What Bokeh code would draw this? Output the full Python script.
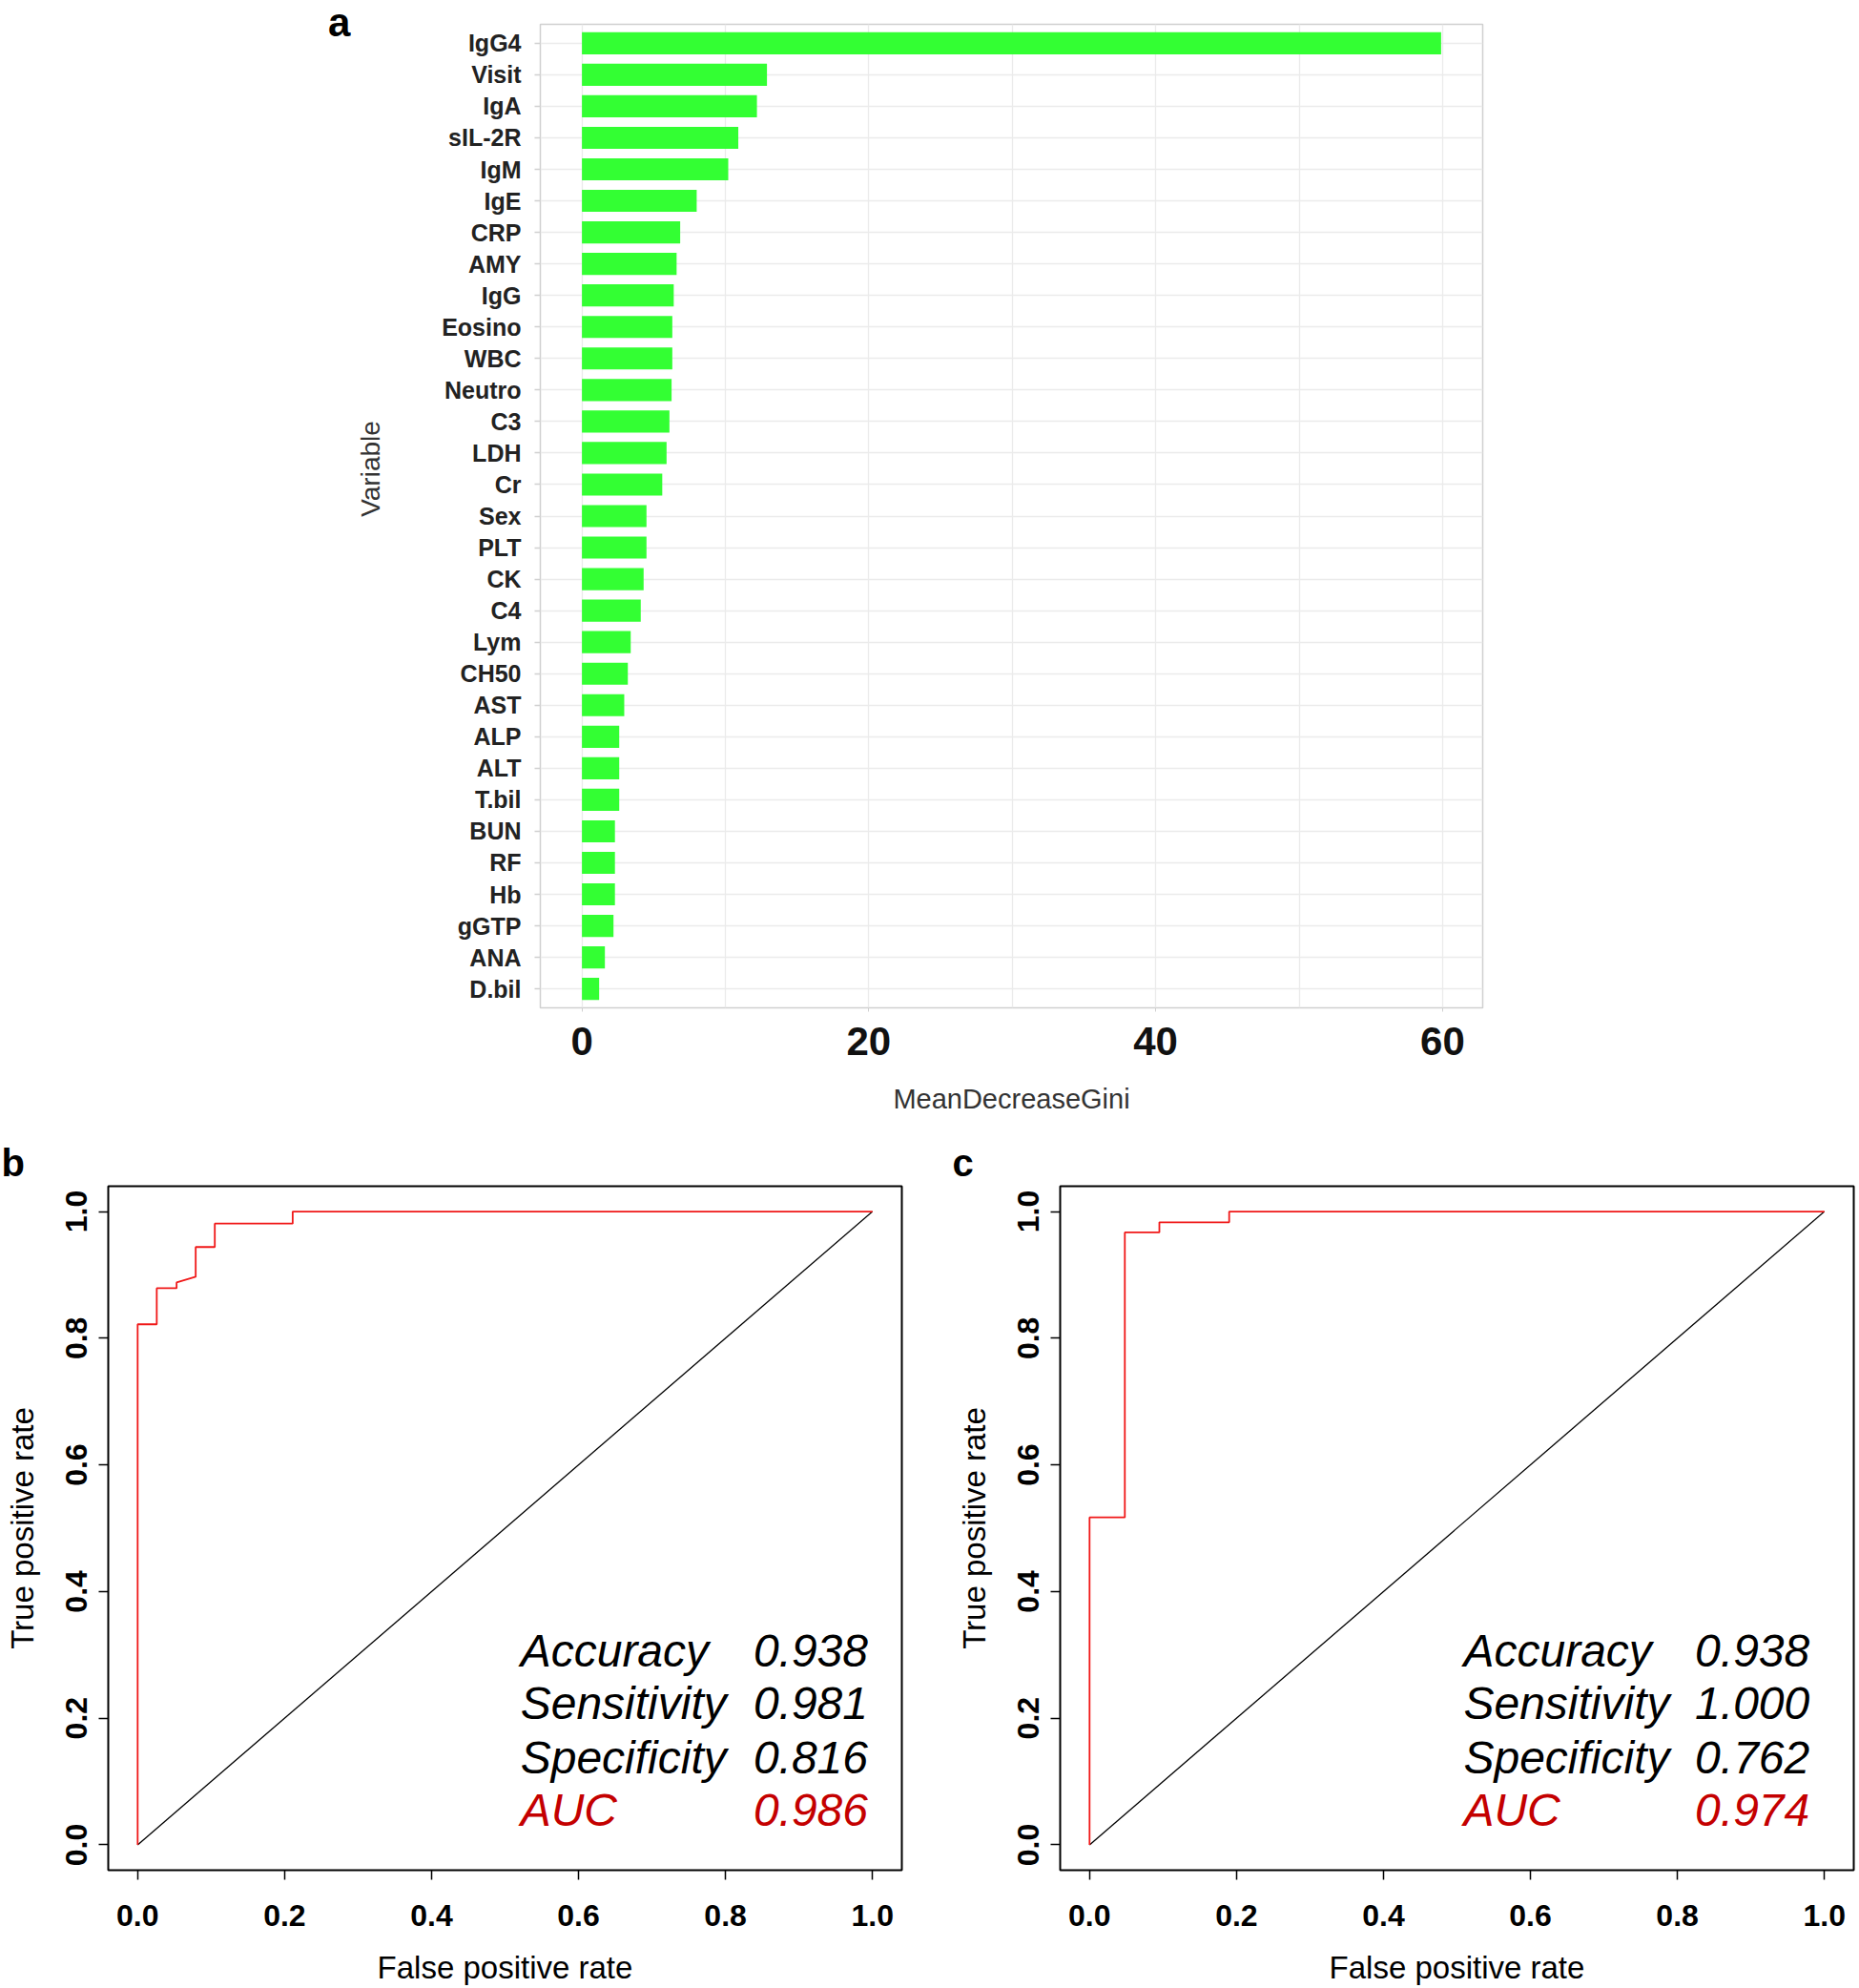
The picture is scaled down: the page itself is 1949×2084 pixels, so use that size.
import math
from bokeh.plotting import figure
from bokeh.models import FactorRange, Range1d, FixedTicker, PrintfTickFormatter, Div
from bokeh.layouts import column, row
from bokeh.embed import file_html
from bokeh.resources import INLINE
from bokeh.core.properties import value

# ---------------- data ----------------
variables = ["IgG4", "Visit", "IgA", "sIL-2R", "IgM", "IgE", "CRP", "AMY", "IgG", "Eosino",
             "WBC", "Neutro", "C3", "LDH", "Cr", "Sex", "PLT", "CK", "C4", "Lym", "CH50",
             "AST", "ALP", "ALT", "T.bil", "BUN", "RF", "Hb", "gGTP", "ANA", "D.bil"]
gini = [59.9, 12.9, 12.2, 10.9, 10.2, 8.0, 6.85, 6.6, 6.4, 6.3,
        6.3, 6.25, 6.1, 5.9, 5.6, 4.5, 4.5, 4.3, 4.1, 3.4, 3.2,
        2.95, 2.6, 2.6, 2.6, 2.3, 2.3, 2.3, 2.2, 1.6, 1.2]
gini_ticks = [0, 20, 40, 60]
gini_grid = [0, 10, 20, 30, 40, 50, 60]

fpr_b = [0.0, 0.0, 0.026, 0.026, 0.053, 0.053, 0.079, 0.079, 0.105, 0.105, 0.211, 0.211, 1.0]
tpr_b = [0.0, 0.822, 0.822, 0.879, 0.879, 0.888, 0.897, 0.944, 0.944, 0.981, 0.981, 1.0, 1.0]

fpr_c = [0.0, 0.0, 0.048, 0.048, 0.095, 0.095, 0.190, 0.190, 1.0]
tpr_c = [0.0, 0.517, 0.517, 0.967, 0.967, 0.983, 0.983, 1.0, 1.0]

chance_x = [0.0, 1.0]
chance_y = [0.0, 1.0]
rate_ticks = [0.0, 0.2, 0.4, 0.6, 0.8, 1.0]

stat_names = ["Accuracy", "Sensitivity", "Specificity", "AUC"]
stats_b = ["0.938", "0.981", "0.816", "0.986"]
stats_c = ["0.938", "1.000", "0.762", "0.974"]

FONT = "Liberation Sans"
DARKRED = "#c40000"

TOP_H = 1186
BOT_H = 898
FRAME_TOP = 25
FRAME_BOTTOM = 1056
A_BORDER_BOTTOM = TOP_H - FRAME_BOTTOM

# ---------------- panel letter "a" (HTML text) ----------------
DIV_W = 370
a_html = ('<div style="position:relative;width:%dpx;height:60px;">'
          '<span style="position:absolute;left:344px;top:0px;font-family:\'Liberation Sans\',Arial,sans-serif;'
          'font-size:42px;font-weight:bold;line-height:47px;color:black;">a</span></div>') % DIV_W
div_a = Div(text=a_html, width=DIV_W, height=TOP_H, margin=0)

# ---------------- strip holding the y-axis title "Variable" ----------------
LAB_X0, LAB_X1 = DIV_W, 408
lab = figure(width=LAB_X1 - LAB_X0, height=TOP_H,
             x_range=Range1d(LAB_X0, LAB_X1), y_range=Range1d(FRAME_BOTTOM, FRAME_TOP),
             x_axis_location=None, y_axis_location=None, output_backend="svg",
             toolbar_location=None, min_border_left=0, min_border_right=0,
             min_border_top=FRAME_TOP, min_border_bottom=A_BORDER_BOTTOM)
lab.outline_line_color = None
lab.grid.visible = False
lab.text(x=[388], y=[491], text=["Variable"], angle=math.pi / 2, text_font=value(FONT),
         text_font_size="28px", text_color="#333333", text_align="center",
         text_baseline="middle")

# ---------------- panel a ----------------
pa = figure(width=1949 - LAB_X1, height=TOP_H,
            y_range=FactorRange(factors=variables[::-1], range_padding=0.1,
                                range_padding_units="absolute"),
            x_range=Range1d(-2.9, 62.8),
            output_backend="svg", toolbar_location=None,
            min_border_left=566 - LAB_X1, min_border_right=395,
            min_border_top=FRAME_TOP, min_border_bottom=A_BORDER_BOTTOM)
pa.hbar(y=variables, right=gini, left=0, height=0.7,
        fill_color="#33ff33", line_color=None)
pa.outline_line_color = "#d0d0d0"
pa.outline_line_width = 1.5
pa.ygrid.grid_line_color = "#ebebeb"
pa.ygrid.grid_line_width = 1.5
pa.xgrid.ticker = FixedTicker(ticks=gini_grid)
pa.xgrid.grid_line_color = "#ebebeb"
pa.xgrid.grid_line_width = 1.3

pa.xaxis.ticker = FixedTicker(ticks=gini_ticks)
pa.xaxis.axis_line_color = None
pa.xaxis.major_tick_out = 4
pa.xaxis.major_tick_in = 0
pa.xaxis.minor_tick_line_color = None
pa.xaxis.major_tick_line_color = "#d0d0d0"
pa.xaxis.major_label_standoff = 16
pa.xaxis.major_label_text_font = FONT
pa.xaxis.major_label_text_font_size = "42px"
pa.xaxis.major_label_text_font_style = "bold"
pa.xaxis.major_label_text_color = "#111111"
pa.xaxis.axis_label = "MeanDecreaseGini"
pa.xaxis.axis_label_text_font = FONT
pa.xaxis.axis_label_text_font_size = "29px"
pa.xaxis.axis_label_text_font_style = "normal"
pa.xaxis.axis_label_text_color = "#333333"
pa.xaxis.axis_label_standoff = 27

pa.yaxis.axis_line_color = None
pa.yaxis.major_tick_out = 6
pa.yaxis.major_tick_in = 0
pa.yaxis.major_tick_line_color = "#d0d0d0"
pa.yaxis.major_tick_line_width = 1.5
pa.yaxis.major_label_standoff = 14
pa.yaxis.major_label_text_font = FONT
pa.yaxis.major_label_text_font_size = "25px"
pa.yaxis.major_label_text_font_style = "bold"
pa.yaxis.major_label_text_color = "#222222"


# ---------------- panels b, c ----------------
def roc_panel(fpr, tpr, stats, width, left, right, letter, letter_offset, name_x, val_x):
    p = figure(width=width, height=BOT_H,
               x_range=Range1d(-0.04, 1.04), y_range=Range1d(-0.04, 1.04),
               output_backend="svg", toolbar_location=None,
               min_border_left=left, min_border_right=right,
               min_border_top=57, min_border_bottom=124)
    p.grid.grid_line_color = None
    p.outline_line_color = "black"
    p.outline_line_width = 2
    p.line(chance_x, chance_y, line_color="black", line_width=1.3)
    p.line(fpr, tpr, line_color="#f01818", line_width=1.8)

    row_y = [0.307, 0.2235, 0.138, 0.055]
    colors = ["black", "black", "black", DARKRED]
    p.text(x=[name_x] * 4, y=row_y, text=stat_names, text_color=colors,
           text_font=value(FONT), text_font_size="48px", text_font_style="italic",
           text_align="left", text_baseline="alphabetic")
    p.text(x=[val_x] * 4, y=row_y, text=stats, text_color=colors,
           text_font=value(FONT), text_font_size="48px", text_font_style="italic",
           text_align="left", text_baseline="alphabetic")

    for ax in (p.xaxis[0], p.yaxis[0]):
        ax.ticker = FixedTicker(ticks=rate_ticks)
        ax.formatter = PrintfTickFormatter(format="%.1f")
        ax.axis_line_color = None
        ax.major_tick_out = 10
        ax.major_tick_in = 0
        ax.minor_tick_line_color = None
        ax.major_tick_line_color = "black"
        ax.major_tick_line_width = 1.5
        ax.major_label_text_font = FONT
        ax.major_label_text_font_size = "32px"
        ax.major_label_text_font_style = "bold"
        ax.major_label_text_color = "black"
        ax.axis_label_text_font = FONT
        ax.axis_label_text_font_size = "33px"
        ax.axis_label_text_font_style = "normal"
        ax.axis_label_text_color = "black"
    p.xaxis.axis_label = "False positive rate"
    p.xaxis.major_label_standoff = 26
    p.xaxis.axis_label_standoff = 22
    p.yaxis.axis_label = "True positive rate"
    p.yaxis.major_label_orientation = "vertical"
    p.yaxis.major_label_standoff = 12
    p.yaxis.axis_label_standoff = 25

    p.title.text = letter
    p.title.align = "left"
    p.title.offset = letter_offset
    p.title.standoff = 6
    p.title.text_font = FONT
    p.title.text_font_size = "40px"
    p.title.text_font_style = "bold"
    p.title.text_color = "black"
    return p


pb = roc_panel(fpr_b, tpr_b, stats_b, 996, 113, 51, "b", -112, 0.521, 0.838)
pc = roc_panel(fpr_c, tpr_c, stats_c, 953, 115, 6, "c", -113, 0.509, 0.824)

layout = column(row(div_a, lab, pa), row(pb, pc))
open("out.html", "w").write(file_html(layout, INLINE))
